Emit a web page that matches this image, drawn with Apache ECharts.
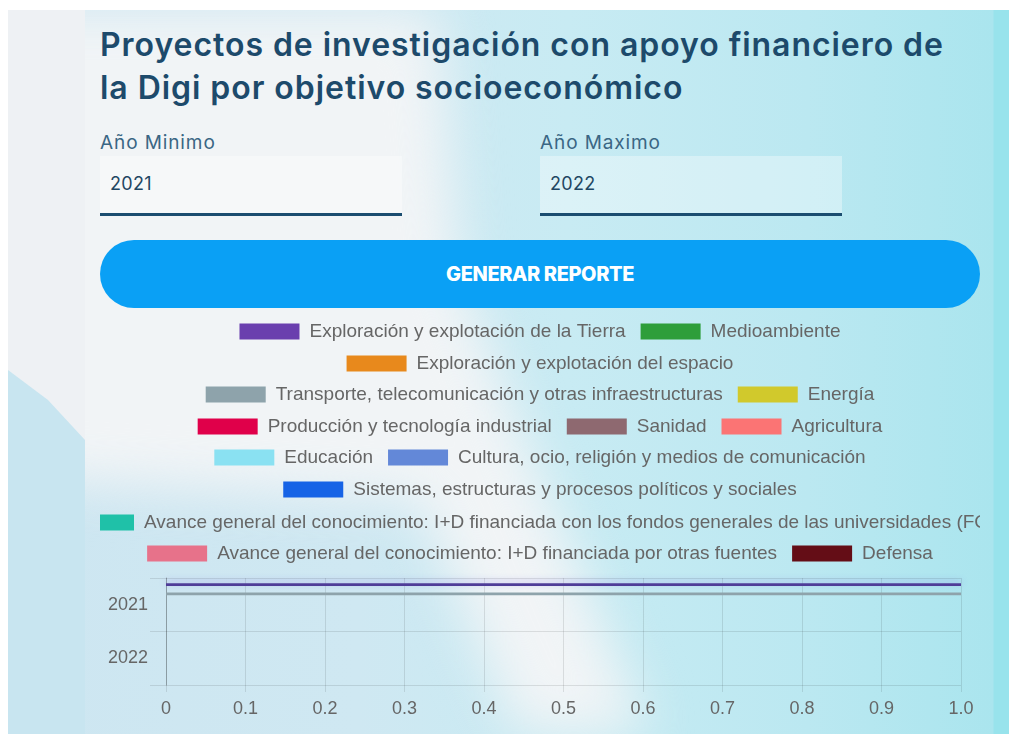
<!DOCTYPE html>
<html>
<head>
<meta charset="utf-8">
<script src="https://cdn.jsdelivr.net/npm/echarts@6/dist/echarts.min.js"></script>
<style>
  html, body { margin: 0; padding: 0; }
  body { width: 1009px; height: 734px; overflow: hidden; position: relative; background: #fff; font-family: Inter, "Open Sans", sans-serif; }
  .bg { position: absolute; left: 8px; top: 10px; right: 0; bottom: 0; overflow: hidden;
        background: linear-gradient(90deg, #cde6f1 0px, #cfe8f2 350px, #c8ebf3 560px, #bbe8f1 800px, #aae5ee 985px, #98e3ec 986px, #98e3ec 100%); }
  .glowwrap { position: absolute; left: 0; top: 0; width: 1001px; height: 724px; filter: blur(26px); }
  .glow { position: absolute; left: 0; top: 0; width: 1001px; height: 724px; background: #f1f4f6;
          clip-path: polygon(0px 0px, 430px 0px, 450px 260px, 520px 440px, 640px 724px, 510px 724px, 410px 490px, 0px 470px); }
  .leftstrip { position: absolute; left: 8px; top: 10px; width: 77px; bottom: 0; background: #eef1f4; }
  .wedge { position: absolute; left: 8px; top: 360px; width: 77px; bottom: 0; background: #c8e5f0;
           clip-path: polygon(0px 10px, 40px 40px, 77px 80px, 77px 400px, 0px 400px); }
  h1 { position: absolute; left: 100px; top: 23px; margin: 0; font-size: 32px; line-height: 43px; font-weight: 600; color: #1d4a6b; letter-spacing: 0.95px; white-space: nowrap; }
  .lbl { position: absolute; top: 131px; font-size: 19px; color: #3a6684; letter-spacing: 0.9px; }
  .inp { position: absolute; top: 156px; width: 302px; height: 57px; background: rgba(255,255,255,0.35); border-bottom: 3px solid #1b4d70; }
  .inp span { position: absolute; left: 10px; top: 17px; font-size: 18px; color: #1f4763; letter-spacing: 0.3px; }
  .btn { position: absolute; left: 100px; top: 240px; width: 880px; height: 68px; border-radius: 34px; background: #0aa0f5;
         color: #fff; font-weight: 800; font-size: 20px; letter-spacing: -0.4px; text-align: center; line-height: 68px; }
  #chart { position: absolute; left: 100px; top: 310px; width: 880px; height: 424px; }
</style>
</head>
<body>
<div class="bg"><div class="glowwrap"><div class="glow"></div></div></div>
<div class="leftstrip"></div>
<div class="wedge"></div>
<h1>Proyectos de investigación con apoyo financiero de<br>la Digi por objetivo socioeconómico</h1>
<div class="lbl" style="left:100px">Año Minimo</div>
<div class="lbl" style="left:540px">Año Maximo</div>
<div class="inp" style="left:100px"><span>2021</span></div>
<div class="inp" style="left:540px"><span>2022</span></div>
<div class="btn">GENERAR REPORTE</div>
<div id="chart"></div>
<script>
// años del reporte
const years = ['2021', '2022'];

// objetivos socioeconómicos (orden de la leyenda)
const objetivos = [
    'Exploración y explotación de la Tierra',
    'Medioambiente',
    'Exploración y explotación del espacio',
    'Transporte, telecomunicación y otras infraestructuras',
    'Energía',
    'Producción y tecnología industrial',
    'Sanidad',
    'Agricultura',
    'Educación',
    'Cultura, ocio, religión y medios de comunicación',
    'Sistemas, estructuras y procesos políticos y sociales',
    'Avance general del conocimiento: I+D financiada con los fondos generales de las universidades (FGU)',
    'Avance general del conocimiento: I+D financiada por otras fuentes',
    'Defensa'
];

// proyectos por objetivo, [2021, 2022]
const tierra = [1, 0];
const medioambiente = [0, 0];
const espacio = [0, 0];
const transporte = [1, 0];
const energia = [0, 0];
const produccion = [0, 0];
const sanidad = [0, 0];
const agricultura = [0, 0];
const educacion = [0, 0];
const cultura = [0, 0];
const sistemas = [0, 0];
const avanceFgu = [0, 0];
const avanceOtras = [0, 0];
const defensa = [0, 0];

const xTickLabels = ['0', '0.1', '0.2', '0.3', '0.4', '0.5', '0.6', '0.7', '0.8', '0.9', '1.0'];

const valores = [tierra, medioambiente, espacio, transporte, energia, produccion, sanidad,
    agricultura, educacion, cultura, sistemas, avanceFgu, avanceOtras, defensa];

const colores = ['#6a3fae', '#2e9e3a', '#e8891c', '#8ea3ab', '#d1c92c', '#e0004a', '#8e6970',
    '#fb7474', '#8ae1f2', '#6388d8', '#1663e6', '#1fc1a8', '#e7728a', '#640d16'];

// filas de la leyenda (indices) y su posicion vertical
const filas = [[0, 1], [2], [3, 4], [5, 6, 7], [8, 9], [10], [11], [12, 13]];
const filasTop = [12, 44, 75, 107, 138, 170, 203, 234];

const chart = echarts.init(document.getElementById('chart'));

const legends = filas.map((fila, i) => ({
    top: filasTop[i],
    left: i === 6 ? -26 : 'center',
    padding: 0,
    itemWidth: 60,
    itemHeight: 16,
    itemGap: 15,
    icon: 'rect',
    selectedMode: false,
    textStyle: { fontFamily: 'Liberation Sans, Arial, sans-serif', fontSize: 19, color: '#666', lineHeight: 18, padding: [0, 0, 0, 5] },
    data: fila.map(k => ({ name: objetivos[k], itemStyle: { color: colores[k] } }))
}));

// barra de la Tierra un poco mas oscura y con halo, como en el original
const barStyle = k => k === 0
    ? { color: '#4f3c98', shadowColor: 'rgba(130,110,230,0.45)', shadowBlur: 7, shadowOffsetY: -2 }
    : { color: colores[k] };

chart.setOption({
    animation: false,
    legend: legends,
    grid: { left: 66, right: 19, top: 268, bottom: 49, outerBoundsMode: 'none' },
    xAxis: {
        type: 'value',
        min: 0,
        max: 1,
        interval: 0.1,
        axisLine: { show: false },
        axisTick: { show: true, length: 7, lineStyle: { color: 'rgba(0,0,0,0.1)' } },
        splitLine: { lineStyle: { color: 'rgba(0,0,0,0.1)' } },
        axisLabel: {
            margin: 15, fontSize: 18, color: '#666', fontFamily: 'Liberation Sans, Arial, sans-serif',
            formatter: (v, i) => xTickLabels[i]
        }
    },
    yAxis: {
        type: 'category',
        inverse: true,
        data: years,
        axisLine: { show: true, lineStyle: { color: 'rgba(0,0,0,0.25)' } },
        axisTick: { show: true, length: 16, lineStyle: { color: 'rgba(0,0,0,0.1)' } },
        splitLine: { show: true, lineStyle: { color: 'rgba(0,0,0,0.1)' } },
        axisLabel: { margin: 18, fontSize: 18, color: '#666', fontFamily: 'Liberation Sans, Arial, sans-serif' }
    },
    series: objetivos.map((name, k) => ({
        name: name,
        type: 'bar',
        data: valores[k].map(v => v ? { value: v, itemStyle: barStyle(k) } : { value: v, itemStyle: { opacity: 0 } }),
        barCategoryGap: '20%',
        barGap: '11%',
        itemStyle: { color: colores[k] }
    }))
});
</script>
</body>
</html>
